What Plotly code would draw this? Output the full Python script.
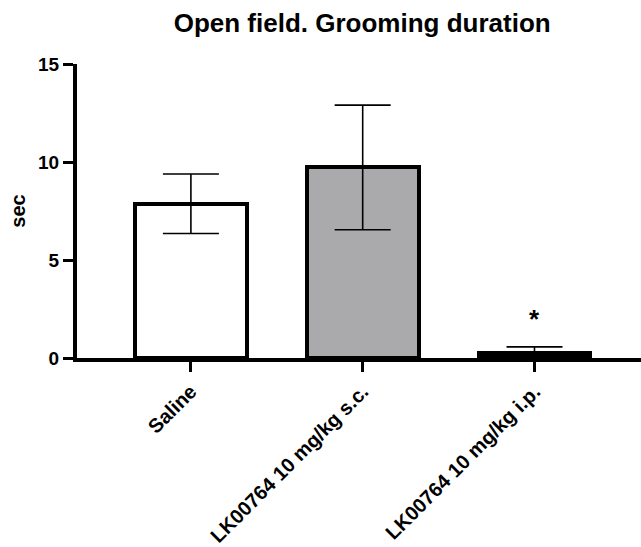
import plotly.graph_objects as go

categories = ["Saline", "LK00764 10 mg/kg s.c.", "LK00764 10 mg/kg i.p."]
means = [7.87, 9.72, 0.25]
errors = [1.52, 3.18, 0.32]
fill_colors = ["#ffffff", "#aaaaac", "#000000"]
y_ticks = [0, 5, 10, 15]
sig_labels = ["", "", "*"]

FONT = "Liberation Sans, Arial, sans-serif"

fig = go.Figure()
fig.add_trace(go.Bar(
    x=list(range(len(categories))),
    y=means,
    width=0.65,
    marker=dict(color=fill_colors, line=dict(color="black", width=4)),
    error_y=dict(type="data", array=errors, visible=True, color="black",
                 thickness=1.6, width=28),
    showlegend=False,
))

for i, s in enumerate(sig_labels):
    if s:
        fig.add_annotation(x=i, y=means[i] + errors[i], text=f"<b>{s}</b>",
                           showarrow=False, yanchor="bottom", yshift=11,
                           font=dict(family=FONT, size=26, color="black"))

fig.update_layout(
    width=641, height=547,
    margin=dict(l=77, r=0, t=64, b=189, autoexpand=False),
    paper_bgcolor="white", plot_bgcolor="white",
    title=dict(text="<b>Open field. Grooming duration</b>", x=0.565, xanchor="center",
               y=0.958, yanchor="middle",
               font=dict(family=FONT, size=26, color="black")),
    font=dict(family=FONT, color="black"),
    bargap=0,
)
fig.update_xaxes(
    range=[-0.663, 2.62], automargin=False,
    tickmode="array", tickvals=list(range(len(categories))),
    ticktext=[f"<b>{c}</b>" for c in categories],
    tickangle=-45, tickfont=dict(family=FONT, size=20, color="black"),
    showline=True, linecolor="black", linewidth=4,
    ticks="outside", ticklen=10, tickwidth=3, tickcolor="black",
    showgrid=False, zeroline=False,
)
fig.update_yaxes(
    range=[0, 15], automargin=False, tickmode="array", tickvals=y_ticks,
    ticktext=[f"<b>{t}</b>" for t in y_ticks],
    tickfont=dict(family=FONT, size=19, color="black"),
    title=dict(text="<b>sec</b>", font=dict(family=FONT, size=20, color="black"), standoff=8),
    showline=True, linecolor="black", linewidth=4,
    ticks="outside", ticklen=10, tickwidth=3, tickcolor="black",
    showgrid=False, zeroline=False,
)

fig.write_html("out.html")
